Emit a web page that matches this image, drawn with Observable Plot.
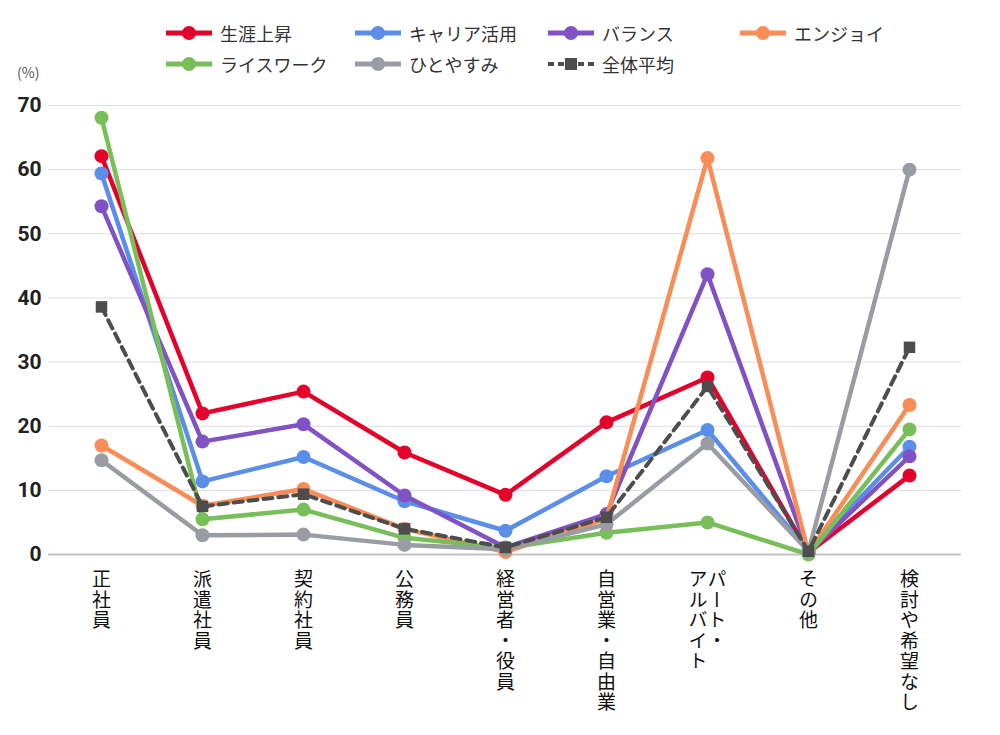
<!DOCTYPE html>
<html><head><meta charset="utf-8">
<script src="https://cdn.jsdelivr.net/npm/d3@7"></script>
<script src="https://cdn.jsdelivr.net/npm/@observablehq/plot@0.6"></script>
<style>
body{margin:0;background:#fff;font-family:"Noto Sans CJK JP","Noto Sans",sans-serif;}
#wrap{position:relative;width:1000px;height:735px;}
#legend{position:absolute;left:166px;top:17px;display:grid;grid-template-columns:189px 193px 192px 190px;row-gap:0px;}
.item{display:flex;align-items:center;height:31px;font-size:18px;color:#333;white-space:nowrap;}
.item svg{margin-right:8px;}
#unit{position:absolute;left:17px;top:65px;font-size:14px;color:#555;z-index:2;line-height:1;}
#chart{position:absolute;left:0;top:78px;}
</style></head>
<body><div id="wrap"><div id="legend"></div><div id="chart"></div><div id="unit">(%)</div></div>
<script>
const categories = ["正社員","派遣社員","契約社員","公務員","経営者・役員","自営業・自由業","パート・\nアルバイト","その他","検討や希望なし"];
const seriesNames = ["生涯上昇","キャリア活用","バランス","エンジョイ","ライスワーク","ひとやすみ","全体平均"];
const colors = ["#e4002b","#5b8ee8","#8052c4","#f98c57","#78bf5a","#9a9ca3","#4d4d4d"];
const shoushou   = [62.1, 22.0, 25.4, 15.9, 9.3, 20.6, 27.6, 0.3, 12.3];
const career     = [59.4, 11.4, 15.2, 8.3, 3.7, 12.2, 19.4, 0.5, 16.8];
const balance    = [54.3, 17.6, 20.3, 9.2, 1.1, 6.3, 43.7, 0.3, 15.3];
const enjoy      = [17.0, 7.6, 10.2, 4.0, 0.4, 5.6, 61.8, 0.2, 23.3];
const ricework   = [68.1, 5.5, 7.0, 2.6, 1.0, 3.4, 5.0, 0.0, 19.5];
const hitoyasumi = [14.7, 3.0, 3.1, 1.5, 0.8, 4.7, 17.3, 0.5, 60.0];
const average    = [38.6, 7.5, 9.4, 4.0, 1.1, 5.8, 26.2, 0.5, 32.3];
const yTicks = [0,10,20,30,40,50,60,70];
const seriesValues = [shoushou, career, balance, enjoy, ricework, hitoyasumi, average];

// legend
const legend = document.getElementById("legend");
seriesNames.forEach((name, i) => {
  const it = document.createElement("div"); it.className = "item";
  const c = colors[i];
  const sw = i === 6
    ? `<svg width="46" height="16"><line x1="0" y1="8" x2="46" y2="8" stroke="${c}" stroke-width="4" stroke-dasharray="6,4"/><rect x="17" y="2" width="12" height="12" fill="${c}"/></svg>`
    : `<svg width="46" height="16"><line x1="0" y1="8" x2="46" y2="8" stroke="${c}" stroke-width="5"/><circle cx="23" cy="8" r="7" fill="${c}"/></svg>`;
  it.innerHTML = sw + `<span>${name}</span>`;
  legend.appendChild(it);
});

// tick label columns (right-to-left for multi-column labels)
const labelRows = [];
categories.forEach(cat => {
  const cols = cat.split("\n");
  cols.forEach((t, j) => labelRows.push({cat, t, n: cols.length, j}));
});
const colGroups = d3.groups(labelRows, d => `${d.n}-${d.j}`);
const colTexts = new Set(labelRows.map(d => d.t));

const marks = [];
marks.push(Plot.ruleY([0], {stroke: "#c4c4c4", strokeWidth: 2}));
seriesNames.forEach((name, i) => {
  const d = categories.map((c, k) => ({cat: c, v: seriesValues[i][k], s: name}));
  if (i === 6) {
    marks.push(Plot.line(d, {x: "cat", y: "v", stroke: colors[i], strokeWidth: 4, strokeDasharray: "9,6"}));
    marks.push(Plot.dot(d, {x: "cat", y: "v", symbol: "square", r: 6.5, fill: colors[i], stroke: null}));
  } else {
    marks.push(Plot.line(d, {x: "cat", y: "v", stroke: colors[i], strokeWidth: 4.5}));
    marks.push(Plot.dot(d, {x: "cat", y: "v", r: 7, fill: colors[i], stroke: null}));
  }
});
colGroups.forEach(([key, rows]) => {
  const n = rows[0].n, j = rows[0].j;
  marks.push(Plot.text(rows, {
    x: "cat", y: () => 0, text: "t",
    dx: ((n - 1) / 2 - j) * 19, dy: 9,
    textAnchor: "start", fill: "#111", fontSize: 19
  }));
});

const chart = Plot.plot({
  width: 1000, height: 657,
  marginLeft: 48, marginRight: 39, marginTop: 27, marginBottom: 181,
  style: {fontFamily: "'Noto Sans CJK JP', sans-serif", background: "transparent"},
  x: {type: "point", domain: categories, padding: 0.5, axis: null},
  y: {domain: [0, 70], ticks: yTicks, label: null},
  marks: [
    Plot.gridY(yTicks, {stroke: "#dcdcdc", strokeOpacity: 1, strokeWidth: 1}),
    Plot.axisY(yTicks, {tickSize: 0, tickPadding: 7, fontSize: 21, fontWeight: "bold", fill: "#222", label: null, fontFamily: "Roboto, sans-serif"}),
    ...marks
  ]
});
document.getElementById("chart").appendChild(chart);

// vertical writing for the category labels
d3.select(chart).selectAll("text")
  .filter(function() { return colTexts.has(this.textContent); })
  .attr("dy", null)
  .attr("text-anchor", "start")
  .attr("letter-spacing", "1.5")
  .style("writing-mode", "vertical-rl")
  .style("text-orientation", "mixed");
</script></body></html>
